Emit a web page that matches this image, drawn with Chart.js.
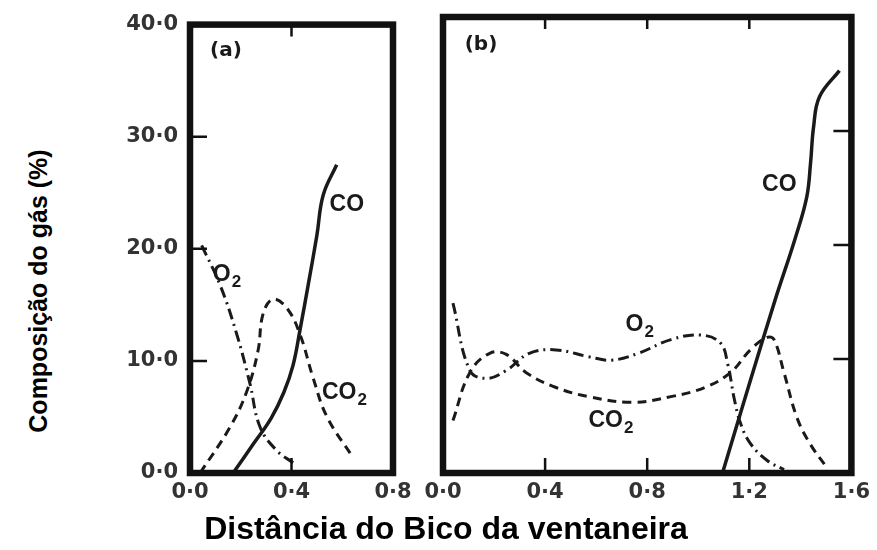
<!DOCTYPE html>
<html>
<head>
<meta charset="utf-8">
<script src="https://cdn.jsdelivr.net/npm/chart.js@4/dist/chart.umd.min.js"></script>
<style>
  html, body { margin:0; padding:0; background:#fff; }
  body { width:877px; height:550px; position:relative; overflow:hidden; }
  .cv { position:absolute; top:0; }
  #ytitle { position:absolute; left:38px; top:291px; transform:translate(-50%,-50%) rotate(-90deg);
    font:bold 25px "Liberation Sans", Arial, sans-serif; white-space:nowrap; color:#000; }
  #xtitle { position:absolute; left:446px; top:528px; transform:translate(-50%,-50%);
    font:bold 32px "Liberation Sans", Arial, sans-serif; white-space:nowrap; color:#000; }
</style>
</head>
<body>
<div class="cv" style="left:100px;width:320px;height:520px;"><canvas id="ca"></canvas></div>
<div class="cv" style="left:410px;width:467px;height:520px;"><canvas id="cb"></canvas></div>
<div id="ytitle">Composição do gás (%)</div>
<div id="xtitle">Distância do Bico da ventaneira</div>
<script>
// ---------- data ----------
const yTickValues = [0, 10, 20, 30, 40];
const yTickLabels = ['0·0', '10·0', '20·0', '30·0', '40·0'];
const xTickValuesA = [0, 0.4, 0.8];
const xTickLabelsA = ['0·0', '0·4', '0·8'];
const xTickValuesB = [0, 0.4, 0.8, 1.2, 1.6];
const xTickLabelsB = ['0·0', '0·4', '0·8', '1·2', '1·6'];

// Panel (a)
const aCO_x  = [0.17, 0.25, 0.32, 0.37, 0.406, 0.433, 0.466, 0.5, 0.525, 0.578];
const aCO_y  = [0, 2.6, 4.9, 7.2, 9.6, 12.7, 16.8, 21.2, 24.8, 27.5];
const aO2_x  = [0.046, 0.118, 0.184, 0.236, 0.276, 0.342, 0.407];
const aO2_y  = [20.3, 16.8, 12.4, 8, 4.1, 2, 0.9];
const aCO2_x = [0.04, 0.158, 0.224, 0.268, 0.288, 0.327, 0.382, 0.433, 0.485, 0.54, 0.642];
const aCO2_y = [0, 4.1, 7.3, 10.9, 14.2, 15.5, 14.7, 12.4, 8.5, 5, 1.4];

// Panel (b)
const bCO_x  = [1.095, 1.2, 1.3, 1.38, 1.425, 1.44, 1.452, 1.475, 1.553];
const bCO_y  = [0, 7.8, 15.1, 20.6, 24.2, 27.2, 30.4, 33, 35.3];
const bO2_x  = [0.039, 0.105, 0.17, 0.248, 0.338, 0.443, 0.571, 0.66, 0.765, 0.893, 1.01, 1.087, 1.115, 1.142, 1.165, 1.204, 1.27, 1.336];
const bO2_y  = [14.9, 9, 8.3, 9, 10.5, 10.8, 10.2, 9.9, 10.5, 11.7, 12.1, 11.4, 9.6, 6.4, 4.4, 2.6, 1.1, 0.3];
const bCO2_x = [0.039, 0.105, 0.183, 0.248, 0.326, 0.443, 0.571, 0.738, 0.893, 1.025, 1.126, 1.204, 1.27, 1.297, 1.336, 1.386, 1.437, 1.503];
const bCO2_y = [4.6, 8.8, 10.5, 10.4, 8.8, 7.5, 6.7, 6.2, 6.7, 7.5, 8.8, 10.8, 11.9, 11.7, 8.8, 4.9, 2.6, 0.5];

// curve labels (data coordinates)
const labelsA = [
  {t:'(a)', x:0.079, y:37.7, bold:true},
  {t:'CO', x:0.55, y:23.9},
  {t:'O', sub:'2', x:0.09, y:17.7},
  {t:'CO', sub:'2', x:0.52, y:7.2}
];
const labelsB = [
  {t:'(b)', x:0.085, y:37.6, bold:true},
  {t:'CO', x:1.25, y:25.3},
  {t:'O', sub:'2', x:0.715, y:13},
  {t:'CO', sub:'2', x:0.57, y:4.6}
];

// ---------- helpers ----------
const pts = (xs, ys) => xs.map((x, i) => ({x, y: ys[i]}));
const INK = '#1a1a1a';
const styleSolid = {borderDash: [], borderWidth: 3.5};
const styleDashDot = {borderDash: [11, 5, 2, 5], borderWidth: 3};
const styleDash = {borderDash: [9, 6], borderWidth: 3};

function ds(label, xs, ys, st) {
  return Object.assign({
    label, data: pts(xs, ys), showLine: true, pointRadius: 0,
    borderColor: INK, fill: false, tension: 0.4
  }, st);
}

function framePlugin(opts) {
  return {
    id: 'frame' + opts.id,
    afterDatasetsDraw(chart) {
      const {ctx, chartArea: a, scales} = chart;
      const xs = scales.x, ys = scales.y;
      ctx.save();
      ctx.strokeStyle = '#111';
      ctx.lineWidth = 2.5;
      ctx.setLineDash([]);
      ctx.beginPath();
      opts.leftTicks.forEach(v => { const p = ys.getPixelForValue(v); ctx.moveTo(a.left, p); ctx.lineTo(a.left + 17, p); });
      opts.rightTicks.forEach(v => { const p = ys.getPixelForValue(v); ctx.moveTo(a.right, p); ctx.lineTo(a.right - 18, p); });
      opts.topTicks.forEach(v => { const p = xs.getPixelForValue(v); ctx.moveTo(p, a.top); ctx.lineTo(p, a.top + 12); });
      opts.bottomTicks.forEach(v => { const p = xs.getPixelForValue(v); ctx.moveTo(p, a.bottom); ctx.lineTo(p, a.bottom - 15); });
      ctx.stroke();
      ctx.lineWidth = 6.5;
      ctx.strokeRect(a.left, a.top, a.right - a.left, a.bottom - a.top);
      // labels
      ctx.fillStyle = '#1a1a1a';
      ctx.textBaseline = 'middle';
      ctx.textAlign = 'left';
      opts.labels.forEach(l => {
        const px = xs.getPixelForValue(l.x), py = ys.getPixelForValue(l.y);
        ctx.font = l.bold ? 'bold 20px "DejaVu Sans", sans-serif' : 'bold 23px "Liberation Sans", Arial, sans-serif';
        ctx.fillText(l.t, px, py);
        if (l.sub) {
          const w = ctx.measureText(l.t).width;
          ctx.font = 'bold 17px "Liberation Sans", Arial, sans-serif';
          ctx.fillText(l.sub, px + w + 1, py + 8);
        }
      });
      ctx.restore();
    }
  };
}

function makeChart(id, datasets, xmax, xVals, xLabels, showY, padding, plugin) {
  return new Chart(document.getElementById(id), {
    type: 'scatter',
    data: {datasets},
    options: {
      responsive: true, maintainAspectRatio: false, animation: false,
      layout: {padding},
      plugins: {legend: {display: false}, tooltip: {enabled: false}},
      scales: {
        x: {
          type: 'linear', min: 0, max: xmax,
          afterBuildTicks: s => { s.ticks = xVals.map(v => ({value: v})); },
          afterFit: s => { s.height = 47; },
          grid: {display: false, drawTicks: false},
          border: {display: false},
          ticks: {
            padding: 7, color: '#333', maxRotation: 0, autoSkip: false,
            font: {family: '"DejaVu Sans", sans-serif', size: 21, weight: 'bold'},
            callback: (v, i) => xLabels[i]
          }
        },
        y: {
          type: 'linear', min: 0, max: 40,
          afterBuildTicks: s => { s.ticks = yTickValues.map(v => ({value: v})); },
          afterFit: s => { s.width = showY ? 90 : 0; },
          grid: {display: false, drawTicks: false},
          border: {display: false},
          ticks: {
            display: showY, padding: 12, color: '#333',
            font: {family: '"DejaVu Sans", sans-serif', size: 21, weight: 'bold'},
            callback: (v, i) => yTickLabels[i]
          }
        }
      }
    },
    plugins: [plugin]
  });
}

makeChart('ca', [
  ds('CO', aCO_x, aCO_y, styleSolid),
  ds('O2', aO2_x, aO2_y, styleDashDot),
  ds('CO2', aCO2_x, aCO2_y, styleDash)
], 0.8, xTickValuesA, xTickLabelsA, true, {top: 19, right: 27, left: 0, bottom: 0},
  framePlugin({id: 'a', leftTicks: [10, 20, 30], rightTicks: [], topTicks: [0.4], bottomTicks: [0.4], labels: labelsA}));

makeChart('cb', [
  ds('CO', bCO_x, bCO_y, styleSolid),
  ds('O2', bO2_x, bO2_y, styleDashDot),
  ds('CO2', bCO2_x, bCO2_y, styleDash)
], 1.6, xTickValuesB, xTickLabelsB, false, {top: 17, right: 22, left: 33, bottom: 0},
  framePlugin({id: 'b', leftTicks: [], rightTicks: [10, 20, 30], topTicks: [0.4, 0.8, 1.2], bottomTicks: [0.4, 0.8, 1.2], labels: labelsB}));
</script>
</body>
</html>
